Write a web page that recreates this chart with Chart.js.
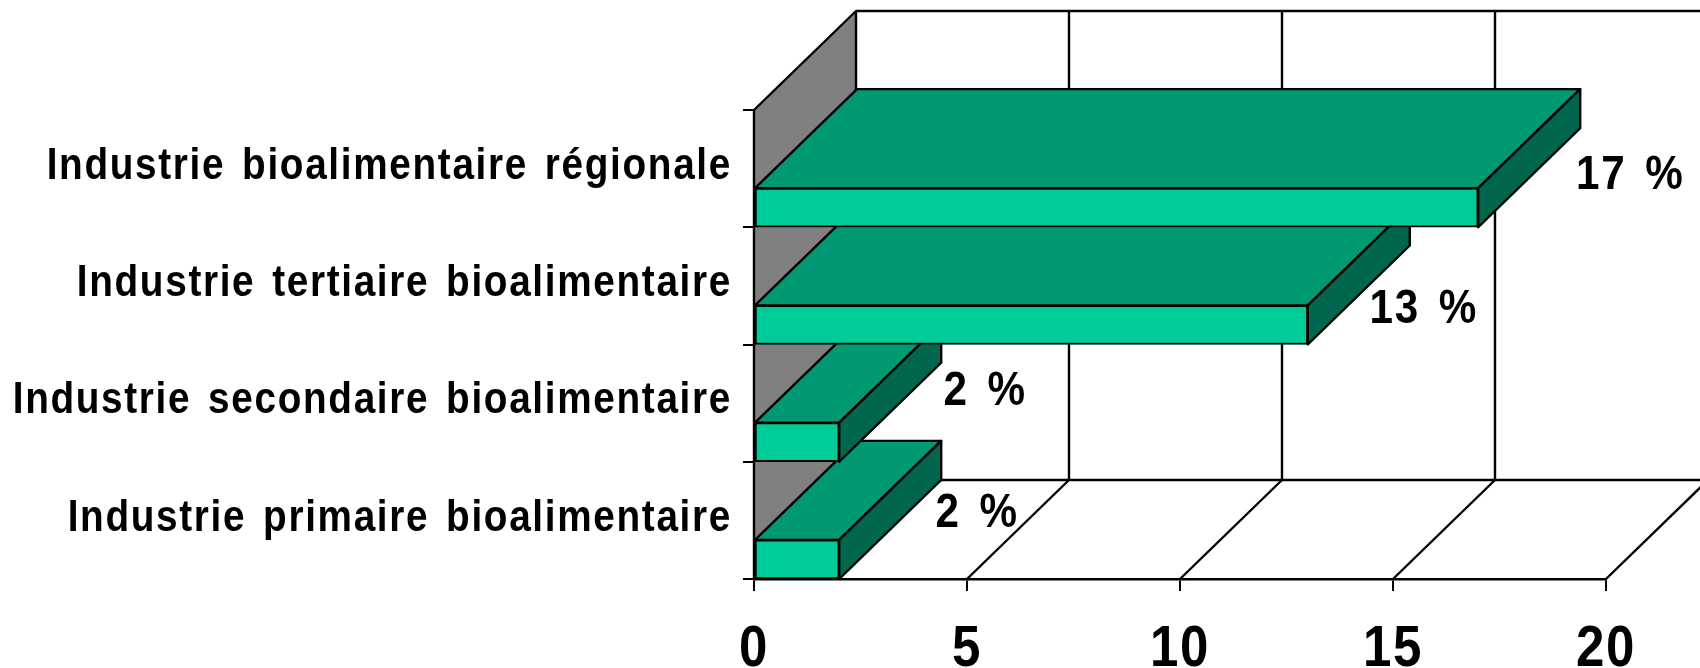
<!DOCTYPE html>
<html>
<head>
<meta charset="utf-8">
<style>
  html, body { margin: 0; padding: 0; background: #fff; overflow: hidden; }
</style>
<script src="https://cdn.jsdelivr.net/npm/chart.js@4"></script>
</head>
<body>
<canvas id="myChart" width="1700" height="668"></canvas>
<script>
// categories from the bottom of the chart to the top
var categories = [
    'Industrie primaire bioalimentaire',
    'Industrie secondaire bioalimentaire',
    'Industrie tertiaire bioalimentaire',
    'Industrie bioalimentaire régionale'
];
var values = [2, 2, 13, 17];
var valueLabels = ['2 %', '2 %', '13 %', '17 %'];
var xTicks = [0, 5, 10, 15, 20];

// pseudo 3d look
var depthX = 102;
var depthY = 99;
var labelFont = 'Liberation Sans';
var barIndex = 2;

function poly(ctx, pts, fill) {
    ctx.beginPath();
    ctx.moveTo(pts[0][0], pts[0][1]);
    for (let i = 1; i < pts.length; i++) ctx.lineTo(pts[i][0], pts[i][1]);
    ctx.closePath();
    if (fill) {
        ctx.fillStyle = fill;
        ctx.fill();
    }
    ctx.stroke();
}

function line(ctx, x1, y1, x2, y2) {
    ctx.beginPath();
    ctx.moveTo(x1, y1);
    ctx.lineTo(x2, y2);
    ctx.stroke();
}

var box3d = {
    id: 'box3d',
    beforeDraw: function(chart) {
        // the canvas state is reset when chart.js sizes it, so set these here
        chart.ctx.letterSpacing = '1.9px';
        chart.ctx.wordSpacing = '5px';
    },
    beforeDatasetsDraw: function(chart) {
        var ctx = chart.ctx, x = chart.scales.x, a = chart.chartArea;
        ctx.save();
        ctx.strokeStyle = '#000';
        ctx.lineWidth = 2.4;
        ctx.lineJoin = 'round';

        // back wall and floor
        line(ctx, a.left + depthX, a.top - depthY, 1700, a.top - depthY);
        line(ctx, a.left + depthX, a.bottom - depthY, 1700, a.bottom - depthY);
        xTicks.forEach(function(t) {
            var px = x.getPixelForValue(t);
            if (t > 0) {
                line(ctx, px + depthX, a.top - depthY, px + depthX, a.bottom - depthY);
                line(ctx, px, a.bottom, px + depthX, a.bottom - depthY);
            }
        });
        // side wall
        poly(ctx, [
            [a.left, a.top],
            [a.left + depthX, a.top - depthY],
            [a.left + depthX, a.bottom - depthY],
            [a.left, a.bottom]
        ], '#808080');

        // top and side of each bar, lowest bar first
        chart.getDatasetMeta(barIndex).data.forEach(function(bar) {
            var top = bar.y - bar.height / 2;
            var bottom = bar.y + bar.height / 2;
            poly(ctx, [
                [bar.base, top],
                [bar.x, top],
                [bar.x + depthX, top - depthY],
                [bar.base + depthX, top - depthY]
            ], '#009973');
            poly(ctx, [
                [bar.x, top],
                [bar.x + depthX, top - depthY],
                [bar.x + depthX, bottom - depthY],
                [bar.x, bottom]
            ], '#00664D');
        });
        ctx.restore();
    },
    afterDatasetsDraw: function(chart) {
        var ctx = chart.ctx;
        // label offsets from the bar end, bottom to top
        var dx = [138, 146, 116, 152];
        var dy = [-44, -48, -13, -30];
        ctx.save();
        ctx.fillStyle = '#000';
        ctx.font = 'bold 48px "' + labelFont + '"';
        ctx.textAlign = 'center';
        ctx.textBaseline = 'middle';
        ctx.letterSpacing = '2px';
        ctx.wordSpacing = '6px';
        chart.getDatasetMeta(barIndex).data.forEach(function(bar, i) {
            ctx.fillText(valueLabels[i], bar.x + dx[i], bar.y + dy[i]);
        });
        ctx.restore();
    }
};

var ctx = document.getElementById('myChart').getContext('2d');

// the text of the chart is narrower than the font and sits a bit higher
var squeeze = 0.88;
var lift = 2;
var plainFillText = ctx.fillText;
ctx.fillText = function(text, x, y) {
    this.save();
    this.translate(x, y - lift);
    this.scale(squeeze, 1);
    plainFillText.call(this, text, 0, 0);
    this.restore();
};

var myChart = new Chart(ctx, {
    type: 'bar',
    data: {
        labels: categories,
        datasets: [
            // empty ones keep the bar in the lower third of its band
            { data: [] },
            { data: [] },
            { data: values, backgroundColor: '#00CC99', borderColor: '#000', borderWidth: 2, borderSkipped: false }
        ]
    },
    options: {
        indexAxis: 'y',
        responsive: false,
        animation: false,
        categoryPercentage: 1,
        barPercentage: 1,
        layout: { padding: { top: 110, right: 94, left: 0, bottom: 0 } },
        plugins: { legend: { display: false }, tooltip: { enabled: false } },
        scales: {
            x: {
                min: 0,
                max: 20,
                afterBuildTicks: function(scale) {
                    scale.ticks = xTicks.map(function(v) { return { value: v }; });
                },
                afterFit: function(scale) { scale.height = 89; },
                grid: { drawOnChartArea: false, color: '#000', lineWidth: 2, tickLength: 12 },
                border: { color: '#000', width: 2.4 },
                ticks: {
                    color: '#000',
                    padding: 26,
                    maxRotation: 0,
                    font: { family: labelFont, weight: 'bold', size: 58 }
                }
            },
            y: {
                reverse: true,
                afterFit: function(scale) { scale.width = 754; },
                grid: { drawOnChartArea: false, color: '#000', lineWidth: 2, tickLength: 11 },
                border: { color: '#000', width: 2.4 },
                ticks: {
                    color: '#000',
                    padding: 11,
                    autoSkip: false,
                    font: { family: labelFont, weight: 'bold', size: 44 }
                }
            }
        }
    },
    plugins: [box3d]
});
</script>
</body>
</html>
